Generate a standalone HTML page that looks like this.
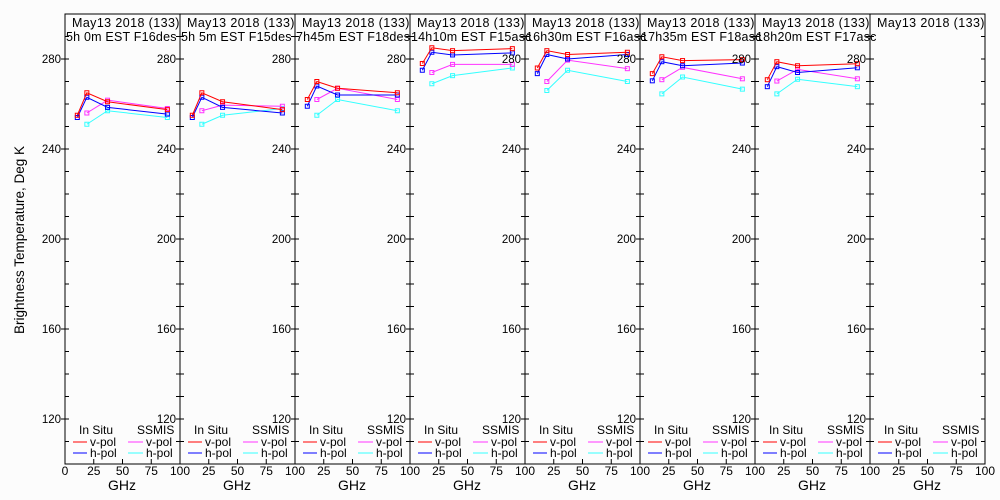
<!DOCTYPE html>
<html><head><meta charset="utf-8"><style>
html,body{margin:0;padding:0;background:#fcfcfc;}
svg{display:block;font-family:"Liberation Sans",sans-serif;}
</style></head><body>
<svg id="chart" width="1000" height="500" viewBox="0 0 1000 500"></svg>
<script>
const freqs = [10.7, 19, 37, 89];
const ssmisFreqs = [19, 37, 89];
const subtitles = ["5h 0m  EST F16des","5h 5m  EST F15des","7h45m  EST F18des","14h10m  EST F15asc","16h30m  EST F16asc","17h35m  EST F18asc","18h20m  EST F17asc",""];
const insituV = [[255,265,261,257.5],[255,265,261,257.5],[262,270,267,265],[278,285,283.7,284.6],[276,283.7,282,283],[273.5,281,279.3,279.7],[270.8,278.8,277,277.9],null];
const insituH = [[254,263,258.5,255.5],[254,263,258.5,256],[259,268,264,264],[275,283,281.8,282.7],[273.5,282,280,282],[270.3,278.8,277,278.2],[267.7,276.6,274,276.1],null];
const ssmisV = [[256,261.7,258],[257,259.5,259],[262,267,262],[274,277.6,277.6],[270,279.5,275.7],[270.8,276.3,271.2],[270.2,275.4,271.2],null];
const ssmisH = [[251,257,254],[251,255,258],[255,262,257],[269,272.6,276],[266,275,270],[264.5,272,266.6],[264.5,271,267.7],null];
const yTicks = [120,160,200,240,280];
const xTicks = [0,25,50,75,100];

const NS="http://www.w3.org/2000/svg";
const svg=document.getElementById('chart');
const X0=65, PW=115, TOP=14, BOT=464;
const yS=T=>BOT-(T-100)/200*(BOT-TOP);
const xS=(p,f)=>X0+p*PW+f/100*PW;
function mk(tag,attrs,parent){const e=document.createElementNS(NS,tag);for(const k in attrs)e.setAttribute(k,attrs[k]);(parent||svg).appendChild(e);return e;}
function txt(x,y,s,anchor,size,parent,ls){const t=mk('text',{x:x,y:y,'font-size':size||12,'text-anchor':anchor||'start',fill:'#000','xml:space':'preserve'},parent);if(ls)t.setAttribute('letter-spacing',ls);t.textContent=s;return t;}

for(let p=0;p<8;p++){
  const g=mk('g',{});
  
  
  const L=X0+p*PW;
  const fr=mk('rect',{x:L,y:TOP,width:PW,height:BOT-TOP,fill:'none',stroke:'#000','stroke-width':1},g);
  
  
  const t1=txt(L+7,27,'May13 2018 (133)','start',12.5,g,'0.4');
  
  
  const t2=txt(L+1,41,subtitles[p],'start',12.5,g,'0.2');
  
  
  for(let T=110;T<=290;T+=10){
    mk('line',{x1:L,x2:L+4,y1:yS(T),y2:yS(T),stroke:'#000'},g);
    mk('line',{x1:L+PW-4,x2:L+PW,y1:yS(T),y2:yS(T),stroke:'#000'},g);
  }
  yTicks.forEach(T=>{
    mk('line',{x1:L-4,x2:L,y1:yS(T),y2:yS(T),stroke:'#000'},g);
    const lb=txt(L-4,yS(T)+4,String(T),'end',11.5,g);
    
    
  });
  xTicks.forEach(f=>{
    mk('line',{x1:xS(p,f),x2:xS(p,f),y1:BOT,y2:BOT-5,stroke:'#000'},g);
    if(f===0&&p>0)return;
    const lb=txt(xS(p,f),BOT+11,String(f),'middle',12,g);
    
    
  });
  const gl=txt(L+57,BOT+26,'GHz','middle',14,g);
  
  
  const lg=mk('g',{},g);
  
  
  txt(L+14,434,'In  Situ','start',12,lg);
  txt(L+72,434,'SSMIS','start',12,lg);
  [['v-pol','#f00','#f3f',446],['h-pol','#00f','#3ff',457]].forEach(r=>{
    mk('line',{x1:L+8,x2:L+22,y1:r[3]-4,y2:r[3]-4,stroke:r[1]},lg);
    txt(L+25,r[3],r[0],'start',12,lg);
    mk('line',{x1:L+63,x2:L+78,y1:r[3]-4,y2:r[3]-4,stroke:r[2]},lg);
    txt(L+81,r[3],r[0],'start',12,lg);
  });
  const series=[[ssmisH[p],ssmisFreqs,'#3ff','ssmis-h-pol'],[ssmisV[p],ssmisFreqs,'#f3f','ssmis-v-pol'],[insituH[p],freqs,'#00f','insitu-h-pol'],[insituV[p],freqs,'#f00','insitu-v-pol']];
  series.forEach(s=>{
    if(!s[0])return;
    const pts=s[0].map((v,i)=>[xS(p,s[1][i]),yS(v)]);
    const pl=mk('polyline',{points:pts.map(q=>q.join(',')).join(' '),fill:'none',stroke:s[2],'stroke-width':1},g);
    
    
    pts.forEach(q=>{
      const m=mk('rect',{x:q[0]-2,y:q[1]-2,width:4,height:4,fill:'none',stroke:s[2],'stroke-width':1},g);
      
      
    });
  });
}
const yt=mk('text',{x:0,y:0,'font-size':13.5,'text-anchor':'middle',fill:'#000',transform:'translate(24,240) rotate(-90)'});
yt.textContent='Brightness Temperature, Deg K';


</script>
</body></html>
